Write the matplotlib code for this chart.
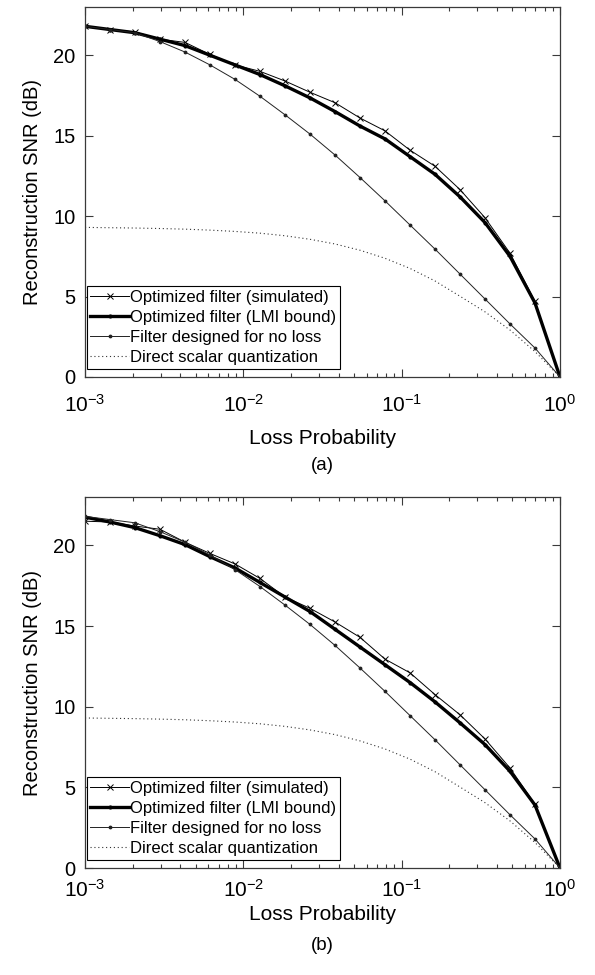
import numpy as np
import matplotlib
matplotlib.use("Agg")
import matplotlib.pyplot as plt
from matplotlib.ticker import LogLocator, NullFormatter, FixedLocator

plt.rcParams['font.family'] = ['Liberation Sans', 'DejaVu Sans']
plt.rcParams['mathtext.fontset'] = 'custom'
plt.rcParams['mathtext.rm'] = 'Liberation Sans'
plt.rcParams['mathtext.it'] = 'Liberation Sans'

# Loss probabilities (20 log-spaced points from 1e-3 to 1)
loss_prob = [0.001, 0.001438, 0.002069, 0.002976, 0.004281, 0.006158, 0.008859,
             0.012743, 0.01833, 0.026367, 0.037927, 0.054556, 0.078476, 0.11288,
             0.16238, 0.23357, 0.33598, 0.48329, 0.69519, 1.0]

# Panel (a)
a_sim = [21.8, 21.6, 21.45, 21.0, 20.8, 20.05, 19.4, 19.0, 18.4, 17.7,
         17.05, 16.1, 15.3, 14.1, 13.1, 11.65, 9.9, 7.7, 4.7, 0.0]
a_lmi = [21.8, 21.6, 21.4, 21.0, 20.6, 20.0, 19.4, 18.8, 18.1, 17.35,
         16.5, 15.6, 14.8, 13.7, 12.6, 11.2, 9.6, 7.5, 4.6, 0.0]

# Panel (b)
b_sim = [21.5, 21.45, 21.2, 21.0, 20.2, 19.5, 18.85, 17.95, 16.8, 16.1,
         15.25, 14.3, 12.95, 12.1, 10.75, 9.5, 8.0, 6.2, 3.95, 0.0]
b_lmi = [21.75, 21.45, 21.1, 20.6, 20.05, 19.3, 18.6, 17.7, 16.8, 15.9,
         14.8, 13.7, 12.6, 11.5, 10.3, 9.0, 7.65, 6.0, 3.9, 0.0]

# Common curves (same in both panels)
no_loss = [21.8, 21.6, 21.4, 20.85, 20.2, 19.4, 18.5, 17.45, 16.3, 15.1,
           13.8, 12.4, 10.95, 9.45, 7.95, 6.4, 4.85, 3.3, 1.8, 0.0]
direct_sq = [9.3, 9.28, 9.26, 9.23, 9.19, 9.13, 9.05, 8.94, 8.78, 8.56,
             8.27, 7.88, 7.38, 6.75, 5.97, 5.02, 4.05, 2.92, 1.58, 0.0]

legend_labels = ['Optimized filter (simulated)', 'Optimized filter (LMI bound)',
                 'Filter designed for no loss', 'Direct scalar quantization']
panel_labels = ['(a)', '(b)']

W, H = 595, 975
fig = plt.figure(figsize=(W / 100, H / 100), dpi=100)

def fr(x0, y0, x1, y1):
    return [x0 / W, 1 - y1 / H, (x1 - x0) / W, (y1 - y0) / H]

axes_boxes = [fr(85, 7, 560, 377), fr(85, 497, 560, 868)]
panels = [(a_sim, a_lmi), (b_sim, b_lmi)]
xtick_pads = [12, 8]
xlabel_pads = [10, 3]
panel_label_y = [465, 945]
spine_col = '#3a3a3a'

for i, (box, (sim, lmi)) in enumerate(zip(axes_boxes, panels)):
    ax = fig.add_axes(box)
    ax.plot(loss_prob, sim, color='k', lw=0.7, marker='x', ms=4, mew=0.7,
            label=legend_labels[0])
    ax.plot(loss_prob, lmi, color='k', lw=2.4, marker='.', ms=4,
            label=legend_labels[1])
    ax.plot(loss_prob, no_loss, color='#222222', lw=0.7, marker='.', ms=3.5,
            label=legend_labels[2])
    ax.plot(loss_prob, direct_sq, color='#333333', lw=0.8, ls=(0, (1, 2.5)),
            label=legend_labels[3])
    ax.set_xscale('log')
    ax.set_xlim(1e-3, 1)
    ax.set_ylim(0, 23)
    ax.yaxis.set_major_locator(FixedLocator([0, 5, 10, 15, 20]))
    ax.xaxis.set_major_locator(LogLocator(base=10, numticks=10))
    ax.xaxis.set_minor_locator(LogLocator(base=10, subs=np.arange(2, 10), numticks=20))
    ax.xaxis.set_minor_formatter(NullFormatter())
    ax.tick_params(which='both', direction='in', top=True, right=True,
                   colors=spine_col, labelcolor='k', width=0.8)
    ax.tick_params(axis='y', labelsize=14.5, pad=7)
    ax.tick_params(axis='x', labelsize=15, pad=xtick_pads[i])
    ax.tick_params(which='major', length=6)
    ax.tick_params(which='minor', length=3)
    for s in ax.spines.values():
        s.set_color(spine_col)
        s.set_linewidth(0.9)
    ax.set_ylabel('Reconstruction SNR (dB)', fontsize=14.5, labelpad=8)
    ax.set_xlabel('Loss Probability', fontsize=15, labelpad=xlabel_pads[i])
    leg = ax.legend(loc='lower left', bbox_to_anchor=(0.0, 0.018), fontsize=12.0,
                    frameon=True, fancybox=False, edgecolor='k', framealpha=1,
                    borderpad=0.22, labelspacing=0.3, handlelength=2.3,
                    handletextpad=0.1, borderaxespad=0.1)
    leg.get_frame().set_linewidth(0.8)
    fig.text(0.5 * (85 + 560) / W, 1 - panel_label_y[i] / H, panel_labels[i],
             ha='center', va='center', fontsize=13.5)

fig.savefig('out.png', dpi=100)
